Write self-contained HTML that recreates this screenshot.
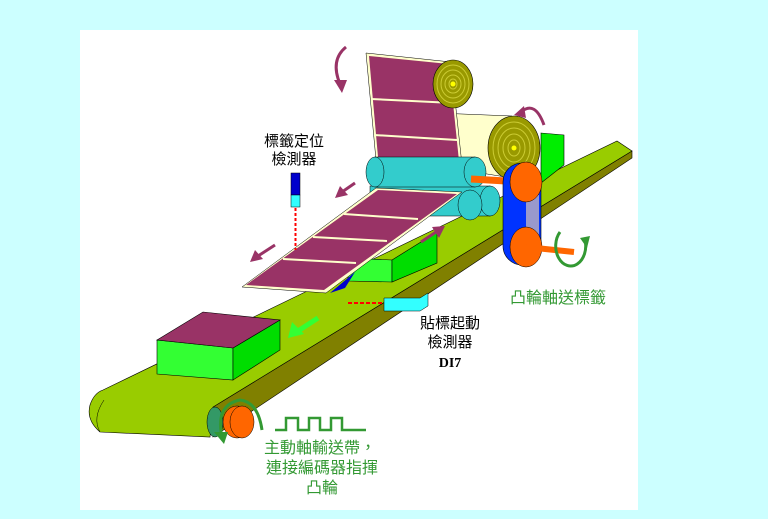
<!DOCTYPE html>
<html><head><meta charset="utf-8"><style>
html,body{margin:0;padding:0;background:#ccffff;}
svg{display:block}
.t{font-family:"Liberation Sans","Noto Sans CJK TC",sans-serif;}
</style></head><body>
<svg width="768" height="519" viewBox="0 0 768 519" xmlns="http://www.w3.org/2000/svg">
<rect width="768" height="519" fill="#ccffff"/>
<rect x="80" y="30" width="558" height="480" fill="#ffffff"/>
<!-- belt -->
<polygon points="213,407 632,151 632,158 213,437" fill="#808000" stroke="#000" stroke-width="0.6"/>
<path d="M103,390 L617,141 L632,151 L213,407 L210,437 L100,432 Q86,420 90,405 Q94,393 103,390 Z" fill="#99cc00" stroke="#000" stroke-width="0.6"/>
<path d="M100,432 Q92,418 104,400" fill="none" stroke="#000" stroke-width="0.5"/>
<!-- right-top box -->
<polygon points="541,133 564,135 564,165 541,183" fill="#00ee00" stroke="#000" stroke-width="0.6"/>
<!-- middle box -->
<polygon points="348,258 392,260 392,282 348,281" fill="#33ff33" stroke="#000" stroke-width="0.6"/>
<polygon points="392,260 437,232 437,263 392,282" fill="#00dd00" stroke="#000" stroke-width="0.6"/>
<!-- big box -->
<polygon points="157,340 233,348 233,380 157,374" fill="#33ff33" stroke="#000" stroke-width="0.6"/>
<polygon points="233,348 280,320 280,350 233,380" fill="#00dd00" stroke="#000" stroke-width="0.6"/>
<polygon points="157,340 203,312 280,320 233,348" fill="#993366" stroke="#000" stroke-width="0.6"/>
<!-- yellow backing -->
<polygon points="437,113 512,116 512,178 462,170 342,250 326,293 320,290 455,190 450,170" fill="#ffffcc" stroke="#000" stroke-width="0.5"/>
<!-- second roll -->
<ellipse cx="514" cy="148" rx="26" ry="32" fill="#999900" stroke="#000" stroke-width="0.6"/>
<g fill="none" stroke="#cccc33" stroke-width="1"><ellipse cx="514" cy="148" rx="21" ry="26"/><ellipse cx="514" cy="148" rx="16" ry="20"/><ellipse cx="514" cy="148" rx="11" ry="14"/><ellipse cx="514" cy="148" rx="6" ry="8"/></g>
<circle cx="514" cy="148" r="2.5" fill="#ffff00"/>
<!-- upper band -->
<polygon points="366,53 451,62 462,165 376,160" fill="#ffffcc" stroke="#000" stroke-width="0.5"/>
<polygon points="369,56 449,64 459,161 378,157" fill="#993366"/>
<line x1="371" y1="99" x2="453" y2="103" stroke="#ffffcc" stroke-width="2"/>
<line x1="374" y1="135" x2="457" y2="140" stroke="#ffffcc" stroke-width="2"/>
<ellipse cx="453" cy="84" rx="20" ry="24" fill="#999900" stroke="#000" stroke-width="0.6"/>
<g fill="none" stroke="#cccc33" stroke-width="1"><ellipse cx="453" cy="84" rx="16" ry="19"/><ellipse cx="453" cy="84" rx="12" ry="14"/><ellipse cx="453" cy="84" rx="8" ry="9"/><ellipse cx="453" cy="84" rx="4" ry="5"/></g>
<circle cx="453" cy="84" r="2.5" fill="#ffff00"/>
<!-- cyan rollers -->
<rect x="370" y="186" width="120" height="30" fill="#33cccc" stroke="#000" stroke-width="0.5"/>
<ellipse cx="490" cy="201" rx="10" ry="15" fill="#33cccc" stroke="#000" stroke-width="0.5"/>
<ellipse cx="470" cy="205" rx="12" ry="15" fill="#33cccc" stroke="#000" stroke-width="0.5"/>
<rect x="375" y="157" width="100" height="30" fill="#33cccc" stroke="#000" stroke-width="0.5"/>
<ellipse cx="375" cy="172" rx="9" ry="15" fill="#33cccc" stroke="#000" stroke-width="0.5"/>
<ellipse cx="475" cy="172" rx="11" ry="15" fill="#33cccc" stroke="#000" stroke-width="0.5"/>
<!-- label strip -->
<polygon points="242,287 376,188 462,192 326,293" fill="#ffffcc" stroke="#000" stroke-width="0.5"/>
<polygon points="246,285 378,190 457,194 324,290" fill="#993366"/>
<g stroke="#ffffcc" stroke-width="2"><line x1="283" y1="259" x2="356" y2="263"/><line x1="313" y1="237" x2="387" y2="241"/><line x1="344" y1="214" x2="418" y2="219"/></g>
<polygon points="330,293 355,272 345,288" fill="#0000cc"/>
<!-- blue belt and pulleys -->
<line x1="471" y1="179" x2="506" y2="181" stroke="#ff6600" stroke-width="7"/>
<rect x="503" y="163" width="38" height="102" rx="19" fill="#0033ff" stroke="#000" stroke-width="0.6"/>
<rect x="526" y="195" width="13" height="40" fill="#9999cc"/>
<ellipse cx="526" cy="182" rx="16" ry="20" fill="#ff6600" stroke="#000" stroke-width="0.5"/>
<ellipse cx="526" cy="247" rx="16" ry="20" fill="#ff6600" stroke="#000" stroke-width="0.5"/>
<line x1="526" y1="247" x2="574" y2="252" stroke="#ff6600" stroke-width="6"/>
<path d="M560,232 A15,20 0 1 0 585,240" fill="none" stroke="#339933" stroke-width="3"/>
<polygon points="580,238 590,236 587,248" fill="#339933"/>
<!-- sensors -->
<rect x="291" y="173" width="9" height="22" fill="#0000cc" stroke="#000" stroke-width="0.5"/>
<rect x="291" y="195" width="9" height="12" fill="#33ffff" stroke="#000" stroke-width="0.5"/>
<line x1="295.5" y1="208" x2="295.5" y2="250" stroke="#ff0000" stroke-width="2" stroke-dasharray="3,2"/>
<line x1="348" y1="303" x2="384" y2="303" stroke="#ff0000" stroke-width="2" stroke-dasharray="4,2"/>
<polygon points="384,298 420,298 428,293 428,306 420,311 384,311" fill="#33ffff" stroke="#000" stroke-width="0.5"/>
<!-- arrows -->
<g fill="#993366" stroke="#993366">
<line x1="355" y1="183" x2="342" y2="192" stroke-width="3"/><polygon points="335,198 340,186 348,195" stroke="none"/>
<line x1="275" y1="245" x2="258" y2="256" stroke-width="3"/><polygon points="250,262 255,250 263,259" stroke="none"/>
<line x1="421" y1="242" x2="436" y2="232" stroke-width="3"/><polygon points="445,226 432,227 439,238" stroke="none"/>
<path d="M346,47 Q330,60 340,84" fill="none" stroke-width="3"/><polygon points="342,93 334,80 347,80" stroke="none"/>
<path d="M521,112 Q535,100 544,125" fill="none" stroke-width="3"/><polygon points="514,115 524,106 526,118" stroke="none"/>
</g>
<g fill="#33ff33"><line x1="318" y1="318" x2="298" y2="331" stroke="#33ff33" stroke-width="5"/><polygon points="288,338 292,322 304,334"/></g>
<!-- left roller -->
<ellipse cx="215" cy="422" rx="8" ry="15" fill="#339966" stroke="#000" stroke-width="0.5"/>
<ellipse cx="237" cy="422" rx="14" ry="16" fill="#ff6600" stroke="#000" stroke-width="0.5"/>
<ellipse cx="242" cy="422" rx="12" ry="16" fill="#ff6600" stroke="#000" stroke-width="0.5"/>
<path d="M222,437 Q215,405 240,400 Q258,402 262,430" fill="none" stroke="#339933" stroke-width="3"/>
<polygon points="224,444 214,432 228,432" fill="#339933"/>
<polyline points="275,430 286,430 286,418 298,418 298,430 309,430 309,418 320,418 320,430 331,430 331,418 342,418 342,430 366,430" fill="none" stroke="#339933" stroke-width="2.5"/>
<!-- texts -->
<g class="t" font-size="15" fill="#000" text-anchor="middle">
<text x="294" y="146">標籤定位</text>
<text x="294" y="164">檢測器</text>
<text x="450" y="328">貼標起動</text>
<text x="450" y="347">檢測器</text>
</g>
<text x="450" y="367" text-anchor="middle" style="font-family:'Liberation Serif',serif;font-weight:bold;font-size:14px">DI7</text>
<g class="t" font-size="16" fill="#339933" text-anchor="middle">
<text x="558" y="303">凸輪軸送標籤</text>
<text x="320" y="453">主動軸輸送帶，</text>
<text x="322" y="473">連接編碼器指揮</text>
<text x="322" y="493">凸輪</text>
</g>
</svg>
</body></html>
